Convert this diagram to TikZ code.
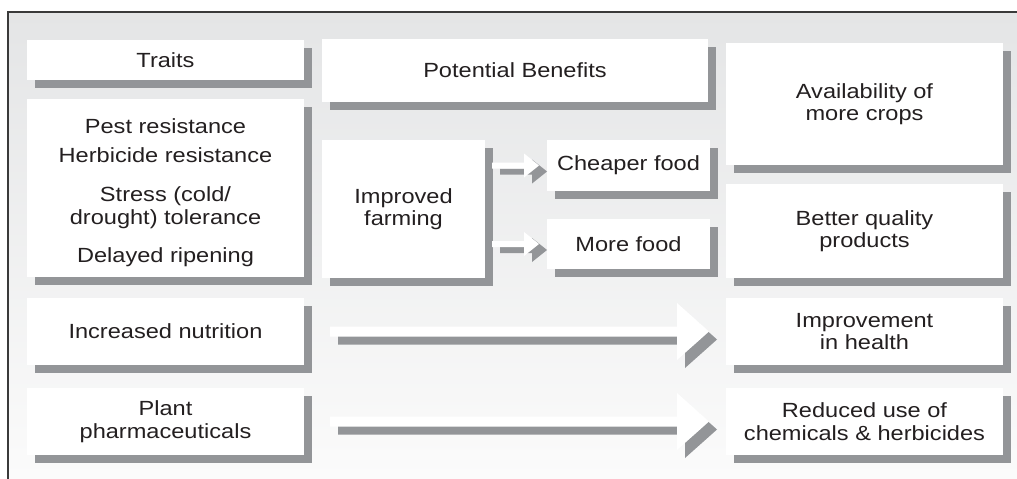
\documentclass[tikz,border=0pt]{standalone}
\usepackage{fontspec}
\setmainfont[FakeStretch=1.15]{Liberation Sans}
\usetikzlibrary{calc,shadows}

\definecolor{ink}{HTML}{231F20}
\definecolor{sgrey}{HTML}{939598}
\definecolor{framegrey}{HTML}{3A3A3A}
\definecolor{bgtop}{HTML}{E4E5E6}
\definecolor{bgbottom}{HTML}{FBFBFB}

\tikzset{
  card/.style={fill=white, inner sep=0pt, outer sep=0pt, align=center, text=ink,
    font=\fontsize{20.5}{22.5}\selectfont,
    drop shadow={shadow xshift=8pt, shadow yshift=-8pt, fill=sgrey, opacity=1}},
  fatarrow/.style={fill=white,
    drop shadow={shadow xshift=8pt, shadow yshift=-8pt, fill=sgrey, opacity=1}},
  slimarrow/.style={fill=white,
    drop shadow={shadow xshift=8pt, shadow yshift=-6pt, fill=sgrey, opacity=1}},
}

% Block arrow from node #2 to node #3 (style #1): start gap #4, end gap #5,
% shaft half width #6, head half width #7, head length #8 (all in pt)
\newcommand\blockarrow[8]{%
  \path[#1] let \p1=(#2.east), \p2=(#3.west) in
    ({\x1+#4pt},{\y2+#6pt}) -- ({\x2-#5pt-#8pt},{\y2+#6pt})
    -- ({\x2-#5pt-#8pt},{\y2+#7pt}) -- ({\x2-#5pt},\y2)
    -- ({\x2-#5pt-#8pt},{\y2-#7pt}) -- ({\x2-#5pt-#8pt},{\y2-#6pt})
    -- ({\x1+#4pt},{\y2-#6pt}) -- cycle;}

\begin{document}
\begin{tikzpicture}[x=1pt, y=-1pt]
  \useasboundingbox (0,0) rectangle (1017,479);
  \fill[white] (0,0) rectangle (1017,479);

  % panel background and frame
  \shade[top color=bgtop, bottom color=bgbottom] (8,12) rectangle (1017,479);
  \draw[framegrey, line width=1.6pt] (8,479) -- (8,12) -- (1017,12);

  % left column: traits
  \node[card, minimum width=277pt, minimum height=40pt] (traits) at (165.5,60) {Traits};
  \node[card, minimum width=277pt, minimum height=178pt] (traitlist) at (165.5,188)
    {\rule{0pt}{24pt}Pest resistance\\[6.5pt]Herbicide resistance\\[16.5pt]Stress (cold/\\drought) tolerance\\[15.5pt]Delayed ripening};
  \node[card, minimum width=277pt, minimum height=67pt] (nutrition) at (165.5,331.5) {Increased nutrition};
  \node[card, minimum width=277pt, minimum height=67pt] (pharma) at (165.5,421.5) {Plant\\pharmaceuticals};

  % middle column: potential benefits
  \node[card, minimum width=386pt, minimum height=63pt] (benefits) at (515,70.5) {Potential Benefits};
  \node[card, minimum width=163pt, minimum height=138pt] (farming) at (403.5,209) {Improved\\farming};
  \node[card, minimum width=163pt, minimum height=51pt] (cheaper) at (628.5,165.5) {Cheaper food};
  \node[card, minimum width=163pt, minimum height=50pt] (morefood) at (628.5,244) {More food};

  % right column: outcomes
  \node[card, minimum width=277pt, minimum height=122pt] (crops) at (864.5,104) {Availability of\\more crops};
  \node[card, minimum width=277pt, minimum height=94pt] (quality) at (864.5,231) {Better quality\\products};
  \node[card, minimum width=277pt, minimum height=67pt] (health) at (864.5,331.5) {Improvement\\in health};
  \node[card, minimum width=277pt, minimum height=67pt] (chemicals) at (864.5,421.5) {Reduced use of\\chemicals \& herbicides};

  % connectors
  \blockarrow{slimarrow}{farming}{cheaper}{7}{8}{3}{12}{15}
  \blockarrow{slimarrow}{farming}{morefood}{7}{8}{3}{12}{15}
  \blockarrow{fatarrow}{nutrition}{health}{26}{17}{5}{28.5}{32}
  \blockarrow{fatarrow}{pharma}{chemicals}{26}{17}{5}{28.5}{32}
\end{tikzpicture}
\end{document}
